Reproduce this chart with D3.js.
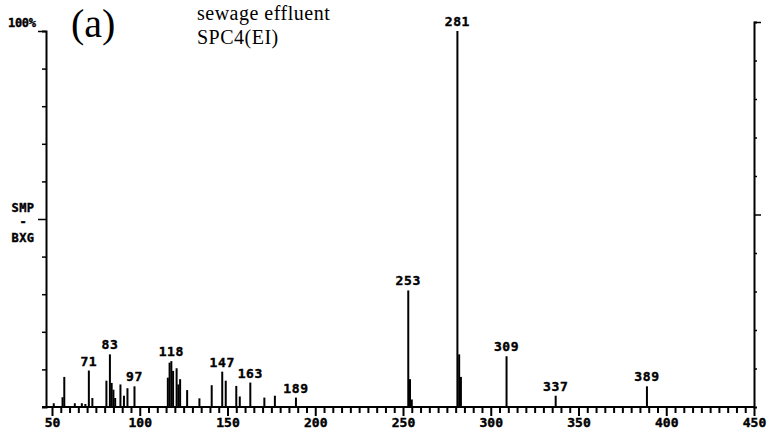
<!DOCTYPE html>
<html><head><meta charset="utf-8">
<script src="https://cdn.jsdelivr.net/npm/d3@7/dist/d3.min.js"></script>
<style>
body{margin:0;background:#fff;}
svg{display:block;}
.mono{font-family:"DejaVu Sans Mono",monospace;font-weight:bold;stroke:#000;stroke-width:0.4px;}
.serif{font-family:"Liberation Serif","Times New Roman",serif;}
</style></head>
<body><svg id="c" width="771" height="436"></svg>
<script>
// m/z values and relative intensities (%)
const mz = [51, 56, 57, 63, 67, 69, 71, 73, 81, 83, 84, 85, 86, 89, 91, 93, 97,
  116, 117, 118, 119, 121, 122, 123, 127, 134, 141, 147, 149, 155, 157, 163, 171, 177, 189,
  253, 254, 255, 281, 282, 283, 309, 337, 389];
const intensity = [1, 2.6, 8, 1, 1, 0.8, 9.7, 2.4, 7, 14, 6.4, 4.6, 2.4, 6, 3, 5, 5.5,
  7.8, 11.8, 12.2, 9.6, 10.3, 6, 7.4, 4.5, 2.3, 5.8, 9.4, 7, 5.6, 2.8, 6.5, 2.5, 3, 2.5,
  31, 7.4, 2, 100, 14, 8, 13.5, 3, 5.5];
const labelled = [71, 83, 97, 118, 147, 163, 189, 253, 281, 309, 337, 389];
const xTickLabels = [50, 100, 150, 200, 250, 300, 350, 400, 450];
const title = "(a)";
const subtitle = ["sewage effluent", "SPC4(EI)"];

const svg = d3.select("#c");
const x = d3.scaleLinear().domain([50, 450]).range([52, 754]);
const y = d3.scaleLinear().domain([0, 100]).range([407, 31]);
const yR = d3.scaleLinear().domain([0, 100]).range([407, 22]);

// peaks
const data = mz.map((m, i) => ({m, v: intensity[i]}));
svg.append("g").selectAll("line").data(data).join("line")
  .attr("x1", d => x(d.m)).attr("x2", d => x(d.m))
  .attr("y1", y(0)).attr("y2", d => y(d.v))
  .attr("stroke", "#000").attr("stroke-width", 2);

// peak labels
svg.append("g").selectAll("text").data(data.filter(d => labelled.includes(d.m))).join("text")
  .attr("class", "mono")
  .attr("x", d => x(d.m)).attr("y", d => y(d.v) - 5)
  .attr("text-anchor", "middle")
  .attr("font-size", 13).attr("letter-spacing", 0.6)
  .text(d => d.m);

// x axis minor ticks
const minor = d3.range(50, 451, 5).filter(v => v % 50 !== 0);
svg.append("g").attr("transform", "translate(0,407)")
  .call(d3.axisBottom(x).tickValues(minor).tickSize(6).tickSizeOuter(0).tickFormat(""))
  .call(g => g.select(".domain").remove())
  .call(g => g.selectAll("line").attr("stroke-width", 2));
svg.append("g").attr("transform", "translate(0,407)")
  .call(d3.axisBottom(x).tickValues(xTickLabels).tickSize(9).tickPadding(2).tickSizeOuter(0).tickFormat(d => d))
  .call(g => g.select(".domain").remove())
  .call(g => g.selectAll("line").attr("stroke-width", 2))
  .call(g => g.selectAll("text").attr("class", "mono").attr("font-size", 13).attr("fill", "#000"));
// baseline
svg.append("line").attr("x1", 42).attr("x2", x(450) + 1).attr("y1", 407).attr("y2", 407)
  .attr("stroke", "#000").attr("stroke-width", 2);

// left axis
const yt = d3.range(10, 101, 10);
svg.append("g").attr("transform", "translate(46,0)")
  .call(d3.axisLeft(y).tickValues(yt).tickSizeOuter(0).tickFormat("")
    .tickSize(4))
  .call(g => g.select(".domain").attr("stroke-width", 2))
  .call(g => g.selectAll(".tick line").attr("x2", d => (d === 50 || d === 100) ? -8 : -4).attr("stroke-width", 1.5));

// right axis
svg.append("g").attr("transform", "translate(754,0)")
  .call(d3.axisRight(yR).tickValues(yt).tickSizeOuter(0).tickFormat("").tickSize(3))
  .call(g => g.select(".domain").attr("stroke-width", 2))
  .call(g => g.selectAll(".tick line").attr("x2", d => (d === 50 || d === 100) ? 7 : 3).attr("stroke-width", 1.5));

// axis side labels
svg.append("text").attr("class", "mono").attr("x", 8).attr("y", 27).attr("font-size", 12).attr("letter-spacing", -0.3).text("100%");
svg.append("text").attr("class", "mono").attr("x", 23).attr("y", 212).attr("font-size", 12).attr("letter-spacing", 0.5).attr("text-anchor", "middle").text("SMP");
svg.append("text").attr("class", "mono").attr("x", 23).attr("y", 226).attr("font-size", 12).attr("text-anchor", "middle").text("-");
svg.append("text").attr("class", "mono").attr("x", 23).attr("y", 242).attr("font-size", 12).attr("letter-spacing", 0.5).attr("text-anchor", "middle").text("BXG");

// titles
svg.append("text").attr("class", "serif").attr("x", 71).attr("y", 37).attr("font-size", 40).text(title);
svg.append("text").attr("class", "serif").attr("x", 197).attr("y", 20).attr("font-size", 20).attr("letter-spacing", 0.5).text(subtitle[0]);
svg.append("text").attr("class", "serif").attr("x", 197).attr("y", 44).attr("font-size", 20).attr("letter-spacing", 0.5).text(subtitle[1]);
</script></body></html>
